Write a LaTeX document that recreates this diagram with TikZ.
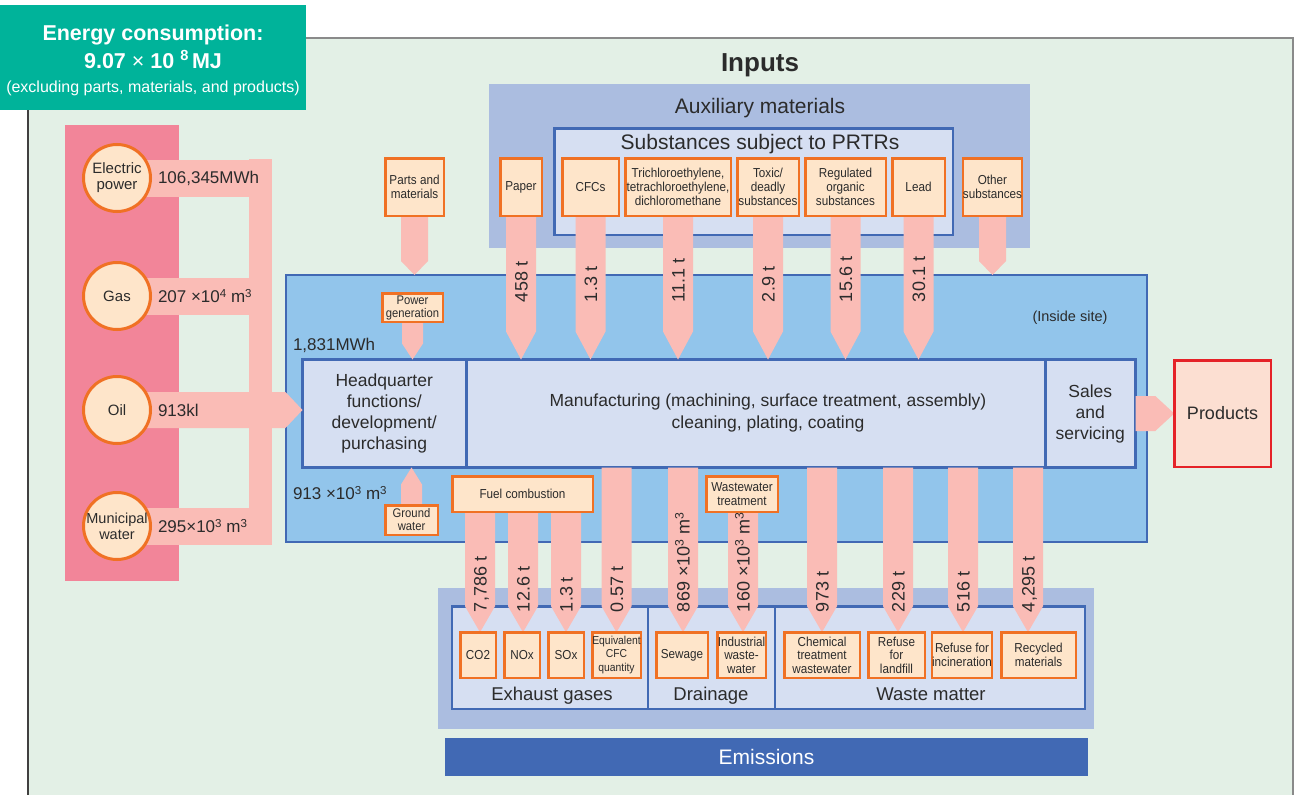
\documentclass[tikz,border=0pt]{standalone}
\usepackage{fontspec}
\usepackage{graphicx}
\setmainfont{Liberation Sans}
\newfontfamily\narrowf[FakeStretch=0.9]{Liberation Sans}
\usetikzlibrary{calc}
\pgfdeclarelayer{bg}
\pgfdeclarelayer{mid}
\pgfsetlayers{bg,mid,main}
\definecolor{bggreen}{HTML}{E3F0E6}
\definecolor{hdrteal}{HTML}{00B39A}
\definecolor{auxblue}{HTML}{ABBDE0}
\definecolor{siteblue}{HTML}{92C5EB}
\definecolor{paleblue}{HTML}{D6DFF2}
\definecolor{bordblue}{HTML}{4169B4}
\definecolor{oborder}{HTML}{F07124}
\definecolor{ofill}{HTML}{FEE5CA}
\definecolor{flowpink}{HTML}{FABCB6}
\definecolor{energypink}{HTML}{F28599}
\definecolor{prodfill}{HTML}{FCDFD2}
\definecolor{prodred}{HTML}{E52228}
\definecolor{txt}{HTML}{2B2B2B}
\definecolor{frameg}{HTML}{8A8A8A}
\definecolor{framed}{HTML}{404040}
\newcommand\spx[1]{\raisebox{0.33em}{\scalebox{0.68}{#1}}}
% pentagon flow arrows (canvas arithmetic)
\newcommand\dflow[4]{\fill[flowpink] let \p1=(#1), \p2=(#2) in
  (\x1-#3,\y1) -- (\x1+#3,\y1) -- (\x1+#3,\y2+#4) -- (\x1,\y2) -- (\x1-#3,\y2+#4) -- cycle;}
\newcommand\uflow[4]{\fill[flowpink] let \p1=(#1), \p2=(#2) in
  (\x1-#3,\y1) -- (\x1+#3,\y1) -- (\x1+#3,\y2-#4) -- (\x1,\y2) -- (\x1-#3,\y2-#4) -- cycle;}
\newcommand\rflow[4]{\fill[flowpink] let \p1=(#1), \p2=(#2) in
  (\x1,\y1-#3) -- (\x2-#4,\y1-#3) -- (\x2,\y1) -- (\x2-#4,\y1+#3) -- (\x1,\y1+#3) -- cycle;}
\begin{document}
\begin{tikzpicture}[x=1pt,y=-1pt,
  every node/.style={text=txt, inner sep=0pt, outer sep=0pt},
  sz/.style 2 args={minimum width=#1pt, minimum height=#2pt},
  obox/.style={rectangle, draw=oborder, fill=ofill, line width=2.5pt, align=center,
    font=\narrowf\fontsize{13}{14}\selectfont},
  palebox/.style={rectangle, draw=bordblue, fill=paleblue, line width=2.5pt},
  procbox/.style={rectangle, draw=bordblue, fill=paleblue, line width=3pt, align=center,
    font=\fontsize{17.5}{21}\selectfont},
  sitebox/.style={rectangle, draw=bordblue, fill=siteblue, line width=2pt},
  energy/.style={circle, draw=oborder, fill=ofill, line width=3pt, minimum size=67pt,
    align=center, font=\fontsize{15}{16}\selectfont},
  qty/.style={anchor=west, font=\fontsize{17}{17}\selectfont},
  lbl/.style={rotate=90, anchor=west, text height=13pt, text depth=0pt,
    font=\fontsize{18}{18}\selectfont},
  grp/.style={anchor=base, font=\fontsize{18.5}{18.5}\selectfont}
]
\useasboundingbox (0,0) rectangle (1296,795);

% ---------------- background layer ----------------
\begin{pgfonlayer}{bg}
\fill[white] (0,0) rectangle (1296,795);
\fill[bggreen] (28,38) rectangle (1293,795);
\draw[frameg, line width=2pt] (306,38) -- (1293,38) -- (1293,795);
\draw[framed, line width=2pt] (28,110) -- (28,795);
\fill[energypink] (65,125) rectangle (179,581);
\node[fill=auxblue, sz={541}{164}] (aux) at (759.5,166) {};
\node[palebox, sz={398.5}{106.5}] (prtr) at (753.5,181.5) {};
\node[sitebox, sz={861}{267}] (site) at (716.5,408.5) {};
\node[procbox, sz={163.5}{108}] (hq) at (384.25,413.5) {Headquarter\\functions/\\development/\\purchasing};
\node[procbox, sz={579}{108}] (mfg) at (755.5,413.5) {};
\node[procbox, sz={90.5}{108}] (sales) at (1090.25,413.5) {Sales\\and\\servicing};
\node[fill=auxblue, sz={656}{141}] (emis) at (766,658.5) {};
\node[palebox, sz={195.75}{102.5}] (exh) at (550.1,657.5) {};
\node[palebox, sz={127}{102.5}] (drn) at (711.5,657.5) {};
\node[palebox, sz={309.75}{102.5}] (wst) at (929.9,657.5) {};
\node[fill=bordblue, sz={643}{38}, text=white, font=\fontsize{21}{21}\selectfont] (emisbar) at (766.5,757) {Emissions};
\end{pgfonlayer}

% ---------------- header ----------------
\node[fill=hdrteal, sz={306}{105}] (hdr) at (153,57.5) {};
\node[anchor=base, text=white, font=\bfseries\fontsize{21.5}{21.5}\selectfont] (hdr1) at (153,40) {Energy consumption:};
\node[anchor=base, text=white, font=\bfseries\fontsize{21.5}{21.5}\selectfont] (hdr2) at (153,68) {9.07 {\mdseries ×} 10~\spx{8}\,MJ};
\node[anchor=base, text=white, font=\fontsize{16}{16}\selectfont] (hdr3) at (153,92) {(excluding parts, materials, and products)};

% ---------------- titles ----------------
\node[anchor=base, font=\bfseries\fontsize{26}{26}\selectfont] (inputs) at (760,71) {Inputs};
\node[anchor=base, font=\fontsize{21}{21}\selectfont] (auxlbl) at (760,113) {Auxiliary materials};
\node[anchor=base, font=\fontsize{21}{21}\selectfont] (prtrlbl) at (760,149) {Substances subject to PRTRs};
\node[font=\fontsize{14.5}{14.5}\selectfont] (inside) at (1070,318) {(Inside site)};
\node[align=center, font=\fontsize{17.5}{22}\selectfont] (mfgtxt) at (768,413) {Manufacturing (machining, surface treatment, assembly)\\cleaning, plating, coating};

% ---------------- input boxes ----------------
\node[obox, sz={58.5}{57.5}] (parts) at (414.5,187) {Parts and\\materials};
\node[obox, sz={41.5}{57.5}] (paper) at (521,187) {Paper};
\node[obox, sz={56.5}{57.5}] (cfcs) at (590.5,187) {CFCs};
\node[obox, sz={105.5}{57.5}] (trich) at (678,187) {Trichloroethylene,\\tetrachloroethylene,\\dichloromethane};
\node[obox, sz={61.5}{57.5}] (toxic) at (768,187) {Toxic/\\deadly\\substances};
\node[obox, sz={80.5}{57.5}] (regorg) at (845.5,187) {Regulated\\organic\\substances};
\node[obox, sz={52.5}{57.5}] (lead) at (918.5,187) {Lead};
\node[obox, sz={54.5}{57.5}] (other) at (992.5,187) {Other\\substances};
\node[obox, sz={60.5}{28.5}, font=\narrowf\fontsize{12.5}{13}\selectfont] (pgen) at (412.5,307.5) {Power\\generation};
\node[obox, sz={52.5}{29.5}, font=\narrowf\fontsize{12.5}{13}\selectfont] (gw) at (411.5,520) {Ground\\water};
\node[obox, sz={140.5}{35.5}] (fuel) at (522.5,494) {Fuel combustion};
\node[obox, sz={71.5}{35.5}] (wwt) at (742,494) {Wastewater\\treatment};

% ---------------- output boxes ----------------
\node[obox, sz={35.5}{45.5}] (co2) at (478,655) {CO2};
\node[obox, sz={35.5}{45.5}] (nox) at (522,655) {NOx};
\node[obox, sz={35.5}{45.5}] (sox) at (566,655) {SOx};
\node[obox, sz={48.5}{45.5}, font=\narrowf\fontsize{11.5}{13.5}\selectfont] (cfceq) at (616.5,655) {Equivalent\\CFC\\quantity};
\node[obox, sz={51.5}{45.5}] (sewage) at (682,655) {Sewage};
\node[obox, sz={48.5}{45.5}, font=\narrowf\fontsize{13}{13.5}\selectfont] (indww) at (741.5,655) {Industrial\\waste-\\water};
\node[obox, sz={75.5}{45.5}, font=\narrowf\fontsize{13}{13.5}\selectfont] (chem) at (822,655) {Chemical\\treatment\\wastewater};
\node[obox, sz={56.5}{45.5}, font=\narrowf\fontsize{13}{13.5}\selectfont] (landfill) at (896.5,655) {Refuse\\for\\landfill};
\node[obox, sz={55.5}{45.5}] (incin) at (962,655) {Refuse for\\incineration};
\node[obox, sz={74.5}{45.5}] (recyc) at (1038.5,655) {Recycled\\materials};

\node[grp] (exhlbl) at (552,700) {Exhaust gases};
\node[grp] (drnlbl) at (711,700) {Drainage};
\node[grp] (wstlbl) at (931,700) {Waste matter};

% ---------------- energy sources ----------------
\node[energy] (elec) at (117,178) {Electric\\power};
\node[energy] (gas) at (117,296) {Gas};
\node[energy] (oil) at (117,410) {Oil};
\node[energy, font=\fontsize{14.5}{16}\selectfont] (muni) at (117,526) {Municipal\\water};
\coordinate (busR) at (272,0);
\coordinate (busT) at (260.5,159);
\coordinate (busB) at (260.5,544);

\node[qty] (qelec) at (158,178) {106,345MWh};
\node[qty] (qgas) at (158,296) {207 ×10\spx{4} m\spx{3}};
\node[qty] (qoil) at (158,410) {913kl};
\node[qty] (qmuni) at (158,526) {295×10\spx{3} m\spx{3}};
\node[qty] (qpgen) at (293,345) {1,831MWh};
\node[qty] (qgw) at (293,493) {913 ×10\spx{3} m\spx{3}};

% ---------------- products ----------------
\node[rectangle, draw=prodred, fill=prodfill, line width=2.5pt, sz={96.5}{106.5},
  font=\fontsize{18}{18}\selectfont] (prod) at (1222.5,413.5) {Products};

% arrow x positions for the emission flows
\coordinate (xco2) at ($(co2.north)+(2,0)$);
\coordinate (xnox) at ($(nox.north)+(1,0)$);
\coordinate (xsew) at ($(sewage.north)+(1,0)$);
\coordinate (xind) at ($(indww.north)+(1.5,0)$);
\coordinate (xland) at ($(landfill.north)+(1.5,0)$);
\coordinate (xinc) at ($(incin.north)+(1,0)$);
\coordinate (xrec) at ($(recyc.north)+(-10.5,0)$);

% ---------------- flows ----------------
\begin{pgfonlayer}{mid}
\draw[flowpink, line width=37pt] (elec.center) -- (elec.center -| busR);
\draw[flowpink, line width=37pt] (gas.center) -- (gas.center -| busR);
\draw[flowpink, line width=37pt] (muni.center) -- (muni.center -| busR);
\draw[flowpink, line width=23pt] (busT) -- (busB);
\rflow{oil.center}{oil.center -| hq.west}{18pt}{17pt}
\rflow{sales.east}{sales.east -| prod.west}{17.5pt}{19pt}
\dflow{parts.south}{parts.south |- site.north}{13.5pt}{14pt}
\dflow{other.south}{other.south |- site.north}{13.5pt}{14pt}
\dflow{paper.south}{paper.south |- hq.north}{15pt}{28pt}
\dflow{cfcs.south}{cfcs.south |- hq.north}{15pt}{28pt}
\dflow{trich.south}{trich.south |- hq.north}{15pt}{28pt}
\dflow{toxic.south}{toxic.south |- hq.north}{15pt}{28pt}
\dflow{regorg.south}{regorg.south |- hq.north}{15pt}{28pt}
\dflow{lead.south}{lead.south |- hq.north}{15pt}{28pt}
\dflow{pgen.south}{pgen.south |- hq.north}{10.5pt}{16pt}
\uflow{gw.north}{gw.north |- hq.south}{10.5pt}{17pt}
\dflow{xco2 |- fuel.south}{xco2}{15pt}{26pt}
\dflow{xnox |- fuel.south}{xnox}{15pt}{26pt}
\dflow{sox.north |- fuel.south}{sox.north}{15pt}{26pt}
\dflow{cfceq.north |- mfg.south}{cfceq.north}{15pt}{26pt}
\dflow{xsew |- mfg.south}{xsew}{15pt}{26pt}
\dflow{xind |- wwt.south}{xind}{15pt}{26pt}
\dflow{chem.north |- mfg.south}{chem.north}{15pt}{26pt}
\dflow{xland |- mfg.south}{xland}{15pt}{26pt}
\dflow{xinc |- mfg.south}{xinc}{15pt}{26pt}
\dflow{xrec |- mfg.south}{xrec}{15pt}{26pt}
\end{pgfonlayer}

% ---------------- flow labels ----------------
\node[lbl] (t1) at (521,302) {458 t};
\node[lbl] (t2) at (590.5,302) {1.3 t};
\node[lbl] (t3) at (678,302) {11.1 t};
\node[lbl] (t4) at (768,302) {2.9 t};
\node[lbl] (t5) at (845.5,302) {15.6 t};
\node[lbl] (t6) at (918.5,302) {30.1 t};
\node[lbl] (b1) at (480,612) {7,786 t};
\node[lbl] (b2) at (523,612) {12.6 t};
\node[lbl] (b3) at (566,612) {1.3 t};
\node[lbl] (b4) at (616.5,612) {0.57 t};
\node[lbl] (b5) at (683,612) {869 ×10\spx{3} m\spx{3}};
\node[lbl] (b6) at (743,612) {160 ×10\spx{3} m\spx{3}};
\node[lbl] (b7) at (822,612) {973 t};
\node[lbl] (b8) at (898,612) {229 t};
\node[lbl] (b9) at (963,612) {516 t};
\node[lbl] (b10) at (1028,612) {4,295 t};
\end{tikzpicture}
\end{document}
